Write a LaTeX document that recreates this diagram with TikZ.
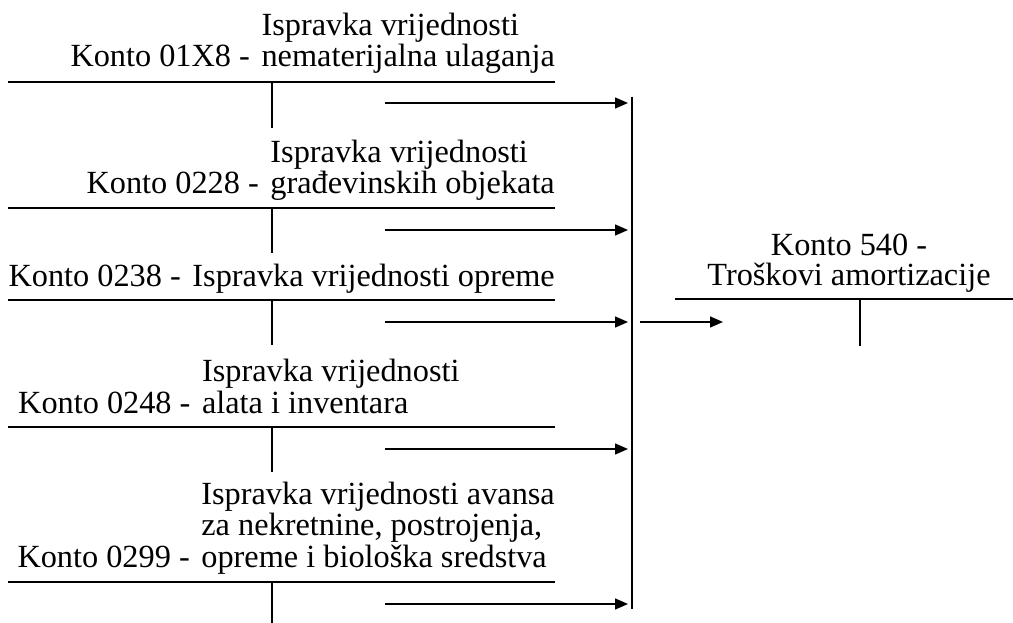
\documentclass[tikz,border=0pt]{standalone}
\usepackage{fontspec}
\setmainfont{Liberation Serif}
\usetikzlibrary{arrows.meta}
\newcommand{\kgap}{\hspace{0.36em}}
\begin{document}
\begin{tikzpicture}[x=1pt,y=-1pt,
  rule/.style={line width=1.5pt},
  flow/.style={line width=1.5pt,-{Triangle[length=13pt,width=11pt]}},
  lbl/.style={inner sep=0pt,font=\fontsize{32.3}{30}\selectfont}]
\useasboundingbox (0,0) rectangle (1013,623);

% T-account headings
\node[lbl,anchor=base east] (t1) at (555,67)
  {Konto 01X8 -\kgap\begin{tabular}[b]{@{}l@{}}Ispravka vrijednosti\\nematerijalna ulaganja\end{tabular}};
\node[lbl,anchor=base east] (t2) at (555,194)
  {Konto 0228 -\kgap\begin{tabular}[b]{@{}l@{}}Ispravka vrijednosti\\građevinskih objekata\end{tabular}};
\node[lbl,anchor=base east] (t3) at (555,286)
  {Konto 0238 -\kgap Ispravka vrijednosti opreme};
\node[lbl,anchor=base west] (t4) at (18,413)
  {Konto 0248 -\kgap\begin{tabular}[b]{@{}l@{}}Ispravka vrijednosti\\alata i inventara\end{tabular}};
\node[lbl,anchor=base east] (t5) at (555,567)
  {Konto 0299 -\kgap\begin{tabular}[b]{@{}l@{}}Ispravka vrijednosti avansa\\za nekretnine, postrojenja,\\opreme i biološka sredstva\end{tabular}};
\node[lbl,anchor=base,align=center] (t6) at (849,285)
  {Konto 540 -\\Troškovi amortizacije};

% T-account rules and stems
\foreach \y/\b in {82/128, 208/253, 300/345, 427/472, 582/623} {
  \draw[rule] (8,\y) -- (555,\y);
  \draw[rule] (272,\y) -- (272,\b);
}
\draw[rule] (675,299) -- (1013,299);
\draw[rule] (860,299) -- (860,346);

% Collecting bar and transfer arrows
\coordinate (barTop) at (632,97);
\coordinate (barBot) at (632,609);
\draw[rule] (barTop) -- (barBot);
\foreach \y [count=\i] in {103,230,322,449,604} {
  \coordinate (s\i) at (385,\y);
  \coordinate (e\i) at (628,\y);
  \draw[flow] (s\i) -- (e\i);
}
\coordinate (ms) at (640,322);
\coordinate (me) at (723,322);
\draw[flow] (ms) -- (me);
\end{tikzpicture}
\end{document}
